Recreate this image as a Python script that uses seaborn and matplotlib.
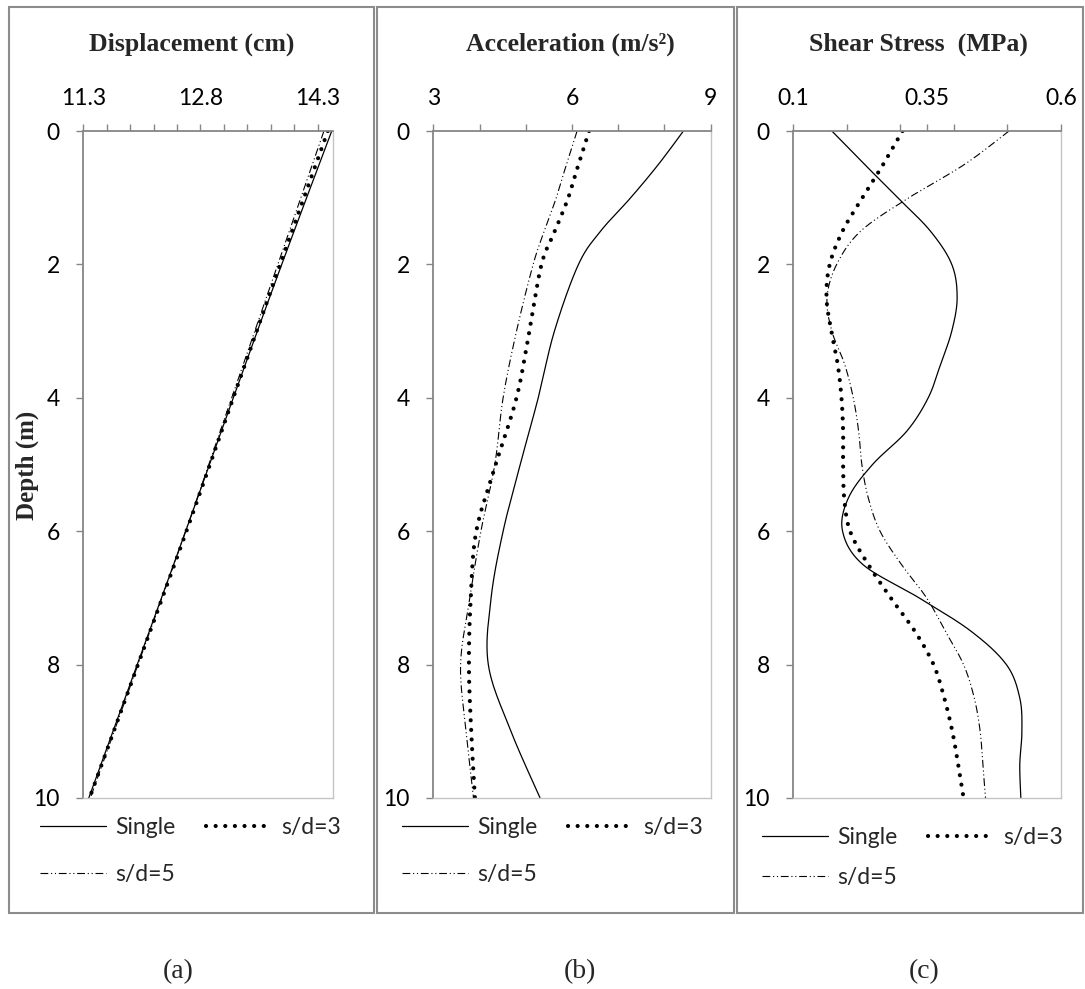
import numpy as np
import pandas as pd
import matplotlib
matplotlib.use("Agg")
import matplotlib.pyplot as plt
from matplotlib.patches import Rectangle
import seaborn as sns

# ---------------- data ----------------
cases = ["Single", "s/d=3", "s/d=5"]

# (a) displacement profile
disp_depth = [0, 2, 4, 6, 8, 10]
disp_single = [14.48, 13.84, 13.22, 12.61, 11.99, 11.37]
disp_sd3 = [14.43, 13.82, 13.22, 12.62, 12.00, 11.38]
disp_sd5 = [14.38, 13.79, 13.20, 12.61, 12.00, 11.39]

# (b) acceleration profile
acc_depth = [0, 0.5, 1, 1.5, 2, 3, 4, 5, 6, 7, 8, 9, 10]
acc_single = [8.41, 7.87, 7.27, 6.62, 6.14, 5.62, 5.27, 4.88, 4.51, 4.25, 4.19, 4.68, 5.31]
acc_sd3 = [6.37, 6.14, 5.92, 5.63, 5.34, 5.08, 4.80, 4.35, 3.93, 3.81, 3.77, 3.82, 3.90]
acc_sd5 = [6.11, 5.88, 5.66, 5.40, 5.16, 4.80, 4.51, 4.33, 4.03, 3.79, 3.59, 3.71, 3.87]

# (c) shear stress profile
tau_depth = [0, 0.5, 1, 1.5, 2, 2.5, 3, 3.5, 4, 4.5, 5, 5.5, 6, 6.5, 7, 7.5, 8,
             8.5, 9, 9.5, 10]
tau_single = [0.172, 0.233, 0.295, 0.356, 0.396, 0.406, 0.396, 0.375, 0.352, 0.312,
              0.248, 0.203, 0.192, 0.230, 0.335, 0.432, 0.498, 0.523, 0.527, 0.523,
              0.525]
tau_sd3 = [0.304, 0.268, 0.229, 0.192, 0.168, 0.162, 0.171, 0.183, 0.190, 0.193,
           0.193, 0.195, 0.206, 0.240, 0.282, 0.327, 0.362, 0.382, 0.397, 0.408,
           0.418]
tau_sd5 = [0.503, 0.420, 0.316, 0.226, 0.181, 0.163, 0.172, 0.196, 0.212, 0.222,
           0.228, 0.240, 0.262, 0.302, 0.349, 0.384, 0.418, 0.438, 0.449, 0.454,
           0.459]

titles = ["Displacement (cm)", "Acceleration (m/s²)", "Shear Stress  (MPa)"]
panel_tags = ["(a)", "(b)", "(c)"]

x_limits = [(11.3, 14.5), (3, 9), (0.1, 0.6)]
x_major = [[11.3, 12.8, 14.3], [3, 6, 9], [0.1, 0.35, 0.6]]
x_major_labels = [["11.3", "12.8", "14.3"], ["3", "6", "9"], ["0.1", "0.35", "0.6"]]
x_minor = [list(np.round(np.arange(11.3, 14.31, 0.3), 2)),
           [3, 4, 5, 6, 7, 8, 9],
           [0.1, 0.2, 0.3, 0.4, 0.5, 0.6]]
depth_ticks = [0, 2, 4, 6, 8, 10]


def smooth_curve(xs, ys, n=24):
    """Catmull-Rom smoothing of a polyline (like a spreadsheet 'smoothed line')."""
    P = np.column_stack([xs, ys]).astype(float)
    P = np.vstack([P[0], P, P[-1]])
    t = np.linspace(0, 1, n, endpoint=False)[:, None]
    out = []
    for i in range(1, len(P) - 2):
        p0, p1, p2, p3 = P[i - 1], P[i], P[i + 1], P[i + 2]
        seg = 0.5 * (2 * p1 + (-p0 + p2) * t
                     + (2 * p0 - 5 * p1 + 4 * p2 - p3) * t ** 2
                     + (-p0 + 3 * p1 - 3 * p2 + p3) * t ** 3)
        out.append(seg)
    out.append(P[-2][None])
    arr = np.vstack(out)
    return arr[:, 0], arr[:, 1]


panels = [
    (disp_depth, [disp_single, disp_sd3, disp_sd5]),
    (acc_depth, [acc_single, acc_sd3, acc_sd5]),
    (tau_depth, [tau_single, tau_sd3, tau_sd5]),
]

line_styles = {
    "Single": dict(linestyle="-", lw=0.9),
    "s/d=3": dict(linestyle=(0, (0.01, 2.3)), lw=3.0, dash_capstyle="round"),
    "s/d=5": dict(linestyle=(0, (7, 2.5, 1, 2.5, 1, 2.5)), lw=0.8),
}

# ---------------- figure ----------------
sns.set_style("white")
plt.rcParams["font.family"] = ["Lato", "DejaVu Sans"]
plt.rcParams["mathtext.default"] = "regular"

W, H = 1085, 989
fig = plt.figure(figsize=(W / 100, H / 100), dpi=100)


def fx(px):
    return px / W


def fy(py):
    return 1 - py / H


ax_top, ax_bot = 131, 798
ax_lr = [(83.3, 333.3), (433.3, 710.7), (793.3, 1061.0)]
frames = [(9, 373.5), (377, 733.5), (737, 1083)]
title_x = [191.5, 570, 918]
tag_x = [178, 580, 924]
legend_pos = [(40, 817, 1.15), (402, 817, 1.15), (762, 827, 0.85)]

grey = "#868686"
light = "#c4c4c4"

for k, (depth, series) in enumerate(panels):
    l, r = ax_lr[k]
    ax = fig.add_axes([fx(l), fy(ax_bot), fx(r) - fx(l), fy(ax_top) - fy(ax_bot)])

    for name, vals in zip(cases, series):
        sx, sy = smooth_curve(vals, depth)
        sns.lineplot(x=sx, y=sy, sort=False, estimator=None, color="black",
                     ax=ax, label=name, **line_styles[name])

    ax.set_xlim(*x_limits[k])
    ax.set_ylim(10, 0)
    ax.xaxis.tick_top()
    ax.set_xticks(x_major[k])
    ax.set_xticklabels(x_major_labels[k])
    ax.set_xticks(x_minor[k], minor=True)
    ax.set_yticks(depth_ticks)
    ax.set_yticklabels([str(d) for d in depth_ticks])
    ax.set_xlabel("")
    ax.set_ylabel("")

    ax.tick_params(axis="x", which="both", top=True, bottom=False, direction="out",
                   length=5, width=1.0, color=grey, labelsize=16.5, pad=11,
                   labelcolor="black")
    ax.tick_params(axis="y", which="major", left=True, direction="out",
                   length=5, width=1.0, color=grey, labelsize=16.5, pad=12,
                   labelcolor="black")
    ax.spines["top"].set_color(grey)
    ax.spines["left"].set_color(grey)
    ax.spines["top"].set_linewidth(1.3)
    ax.spines["left"].set_linewidth(1.3)
    ax.spines["right"].set_color(light)
    ax.spines["bottom"].set_color(light)
    ax.spines["right"].set_linewidth(1.0)
    ax.spines["bottom"].set_linewidth(1.0)
    ax.set_facecolor("white")

    handles, labels = ax.get_legend_handles_labels()
    order = [0, 2, 1]
    lx, ly, lsp = legend_pos[k]
    ax.legend([handles[i] for i in order], [labels[i] for i in order],
              loc="upper left", bbox_to_anchor=(fx(lx), fy(ly)),
              bbox_transform=fig.transFigure, ncol=2, frameon=False,
              fontsize=16.5, handlelength=2.9, handletextpad=0.4,
              columnspacing=1.3, labelspacing=lsp, borderpad=0,
              borderaxespad=0)

    fig.text(fx(title_x[k]), fy(44), titles[k], ha="center", va="center",
             family="Liberation Serif", fontweight="bold", fontsize=18.5)
    fig.text(fx(tag_x[k]), fy(972), panel_tags[k], ha="center", va="center",
             family="Liberation Serif", fontsize=20)

    x0, x1 = frames[k]
    fig.add_artist(Rectangle((fx(x0), fy(913)), fx(x1) - fx(x0), fy(7) - fy(913),
                             transform=fig.transFigure, fill=False,
                             edgecolor="#8c8c8c", linewidth=1.5))

fig.text(fx(27), fy(465), "Depth (m)", rotation=90, ha="center", va="center",
         family="Liberation Serif", fontweight="bold", fontsize=18)

fig.savefig("out.png", dpi=100, facecolor="white")
